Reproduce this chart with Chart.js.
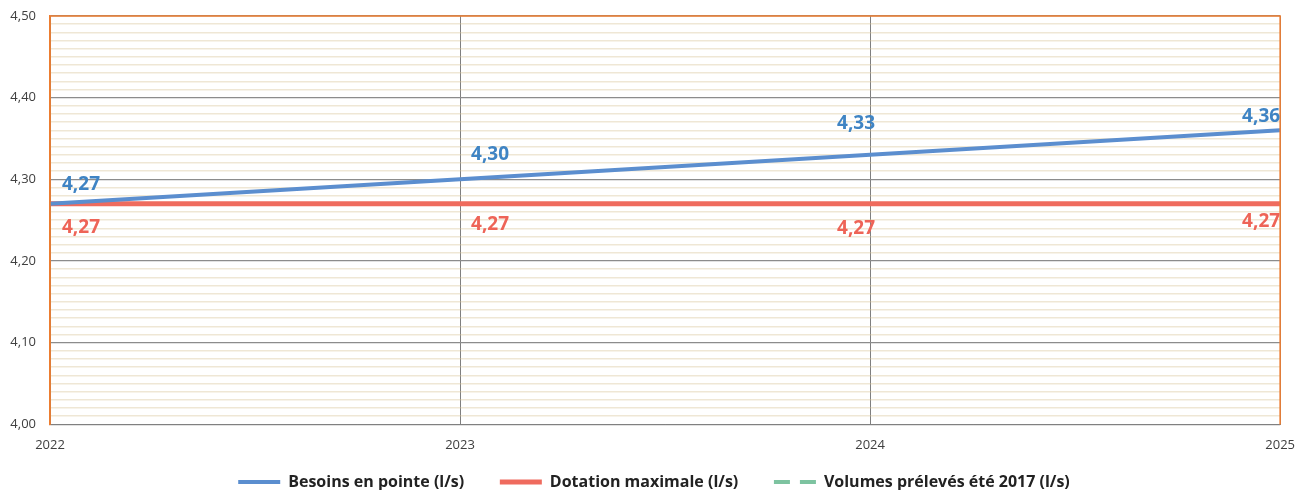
<!DOCTYPE html>
<html>
<head>
<meta charset="utf-8">
<script src="https://cdn.jsdelivr.net/npm/chart.js@4.4.0/dist/chart.umd.min.js"></script>
<style>
  html, body { margin: 0; padding: 0; background: #fff; }
  #wrap { width: 1308px; height: 490px; }
</style>
</head>
<body>
<div id="wrap"><canvas id="chart"></canvas></div>
<script>
const years = ["2022", "2023", "2024", "2025"];
const besoins = [4.27, 4.30, 4.33, 4.36];
const dotation = [4.27, 4.27, 4.27, 4.27];
const volumes2017 = [null, null, null, null];

// label placement (dx from point, dy from point, alignment)
const blueLabelPos = [[12, -19, "left"], [11, -25, "left"], [-14, -31, "center"], [0, -14, "right"]];
const redLabelPos = [[12, 24, "left"], [11, 21, "left"], [-14, 25, "center"], [0, 18, "right"]];

const frLabel = v => v.toFixed(2).replace(".", ",");

const decorations = {
  id: "decorations",
  afterDatasetsDraw(chart) {
    const { ctx, chartArea } = chart;
    ctx.save();
    // orange frame on left, top, right
    ctx.strokeStyle = "#ED7D31";
    ctx.lineWidth = 1.5;
    ctx.beginPath();
    ctx.moveTo(chartArea.left, chartArea.bottom);
    ctx.lineTo(chartArea.left, chartArea.top);
    ctx.lineTo(chartArea.right, chartArea.top);
    ctx.lineTo(chartArea.right, chartArea.bottom);
    ctx.stroke();

    ctx.font = "bold 19px 'Open Sans', sans-serif";
    ctx.textBaseline = "middle";
    const x = chart.scales.x, y = chart.scales.y;
    besoins.forEach((v, i) => {
      const p = blueLabelPos[i];
      ctx.fillStyle = "#3F84C4";
      ctx.textAlign = p[2];
      ctx.fillText(frLabel(v), x.getPixelForValue(i) + p[0], y.getPixelForValue(v) + p[1]);
    });
    dotation.forEach((v, i) => {
      const p = redLabelPos[i];
      ctx.fillStyle = "#EE6457";
      ctx.textAlign = p[2];
      ctx.fillText(frLabel(v), x.getPixelForValue(i) + p[0], y.getPixelForValue(v) + p[1]);
    });
    ctx.restore();
  }
};

new Chart(document.getElementById("chart"), {
  type: "line",
  data: {
    labels: years,
    datasets: [
      {
        label: "Besoins en pointe (l/s)",
        data: besoins,
        borderColor: "#5B8ECF",
        backgroundColor: "#5B8ECF",
        borderWidth: 4,
        pointRadius: 0,
        tension: 0
      },
      {
        label: "Dotation maximale (l/s)",
        data: dotation,
        borderColor: "#EF6B5E",
        backgroundColor: "#EF6B5E",
        borderWidth: 5,
        pointRadius: 0
      },
      {
        label: "Volumes prélevés été 2017 (l/s)",
        data: volumes2017,
        borderColor: "#7DC3A0",
        backgroundColor: "#7DC3A0",
        borderWidth: 4,
        borderDash: [16, 10],
        pointRadius: 0
      }
    ]
  },
  options: {
    responsive: true,
    maintainAspectRatio: false,
    animation: false,
    layout: { padding: { top: 0, right: 0, left: 0, bottom: -10 } },
    plugins: {
      tooltip: { enabled: false },
      legend: {
        position: "bottom",
        labels: {
          usePointStyle: true,
          pointStyle: "line",
          pointStyleWidth: 42,
          boxHeight: 4,
          padding: 1,
          color: "#222",
          font: { family: "'Open Sans', sans-serif", size: 16, weight: "bold" },
          generateLabels(chart) {
            const n = chart.data.datasets.length;
            return chart.data.datasets.map((ds, i) => ({
              text: ds.label + (i < n - 1 ? "\u2003\u2003\u2009" : ""),
              datasetIndex: i,
              strokeStyle: ds.borderColor,
              fillStyle: ds.backgroundColor,
              lineWidth: ds.borderWidth,
              lineDash: ds.borderDash || [],
              pointStyle: "line",
              fontColor: "#222",
              hidden: !chart.isDatasetVisible(i)
            }));
          }
        }
      }
    },
    scales: {
      x: {
        offset: false,
        grid: { color: "#7F7F7F", lineWidth: 1, drawTicks: false },
        border: { color: "#808080" },
        afterFit(scale) { scale.height += 7; },
        ticks: {
          color: "#404040",
          padding: 13,
          maxRotation: 0,
          font: { family: "'Open Sans', sans-serif", size: 13 }
        }
      },
      y: {
        min: 4.0,
        max: 4.5,
        afterFit(scale) { scale.width = 50; scale.paddingTop = 16; },
        grid: {
          drawTicks: false,
          color: ctx => (Math.round(ctx.tick.value * 100) % 10 === 0 ? "#8C8C8C" : "rgba(215, 195, 150, 0.4)"),
          lineWidth: ctx => (Math.round(ctx.tick.value * 100) % 10 === 0 ? 1.2 : 1.5)
        },
        border: { color: "#ED7D31", width: 1.5 },
        ticks: {
          stepSize: 0.01,
          autoSkip: false,
          padding: 14,
          color: "#404040",
          font: { family: "'Open Sans', sans-serif", size: 13 },
          callback: v => (Math.round(v * 100) % 10 === 0 ? frLabel(v) : "")
        }
      },
      yRight: {
        position: "right",
        afterFit(scale) { scale.width = 27; },
        grid: { display: false },
        border: { display: false },
        ticks: { display: false }
      }
    }
  },
  plugins: [decorations]
});
</script>
</body>
</html>
